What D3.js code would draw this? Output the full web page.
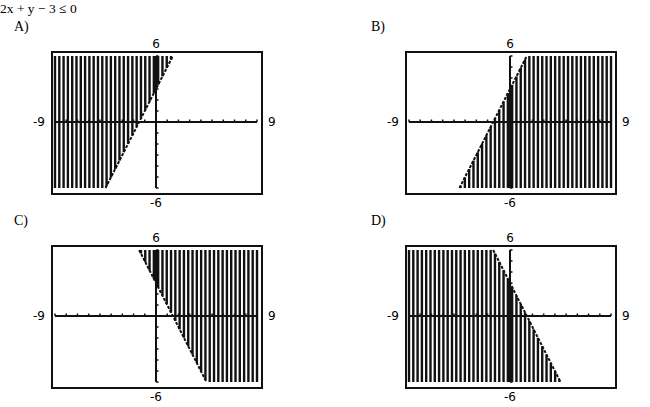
<!DOCTYPE html>
<html><head><meta charset="utf-8">
<script src="https://cdn.jsdelivr.net/npm/d3@7"></script>
<style>body{margin:0;background:#fff}svg{display:block}</style>
</head><body>
<script>
const question = "2x + y \u2212 3 \u2264 0";
const choices = ["A)", "B)", "C)", "D)"];
const slopes = [2, 2, -2, -2];
const intercepts = [3, 3, 3, 3];
const shadeSide = ["above", "below", "above", "below"];
const xDomain = [-9, 9];
const yDomain = [-6, 6];
const xLabels = ["-9", "9"];
const yLabels = ["-6", "6"];

const W = 650, H = 407;
const svg = d3.select("body").append("svg").attr("width", W).attr("height", H);

svg.append("text").attr("x", 0).attr("y", 13)
  .attr("font-family", "Liberation Serif, serif").attr("font-size", 13.5).text(question);

const frames = [[52, 52], [406, 52], [52, 246], [406, 246]];
const labelPos = [[14, 31], [371, 31], [14, 225], [371, 225]];
const fw = 210, fh = 142;

choices.forEach((c, i) => {
  svg.append("text").attr("x", labelPos[i][0]).attr("y", labelPos[i][1])
    .attr("font-family", "Liberation Serif, serif").attr("font-size", 14).text(c);
  const [ox, oy] = frames[i];
  const g = svg.append("g");
  const x = d3.scaleLinear().domain(xDomain).range([ox + 3, ox + 205]);
  const y = d3.scaleLinear().domain(yDomain).range([oy + 136, oy + 4]);
  const m = slopes[i], b = intercepts[i];
  g.append("rect").attr("x", ox).attr("y", oy).attr("width", fw).attr("height", fh)
    .attr("fill", "none").attr("stroke", "#111").attr("stroke-width", 2);
  const cols = d3.range(0, 48).map(k => xDomain[0] + k * (xDomain[1] - xDomain[0]) / 47);
  cols.forEach(xv => {
    const yb = m * xv + b;
    let y0, y1;
    if (shadeSide[i] === "above") { y0 = Math.max(yb, yDomain[0]); y1 = yDomain[1]; }
    else { y0 = yDomain[0]; y1 = Math.min(yb, yDomain[1]); }
    if (y1 > y0) {
      g.append("line").attr("x1", x(xv)).attr("x2", x(xv)).attr("y1", y(y0)).attr("y2", y(y1))
        .attr("stroke", "#111").attr("stroke-width", 2.4);
    }
  });
  g.append("line").attr("x1", x(xDomain[0])).attr("x2", x(xDomain[1])).attr("y1", y(0)).attr("y2", y(0))
    .attr("stroke", "#111").attr("stroke-width", 2);
  g.append("line").attr("x1", x(0)).attr("x2", x(0)).attr("y1", y(yDomain[0])).attr("y2", y(yDomain[1]))
    .attr("stroke", "#111").attr("stroke-width", 2);
  d3.range(xDomain[0], xDomain[1] + 1).forEach(t => {
    g.append("line").attr("x1", x(t)).attr("x2", x(t)).attr("y1", y(0)).attr("y2", y(0) - 2.5)
      .attr("stroke", "#111").attr("stroke-width", 1.5);
  });
  d3.range(yDomain[0], yDomain[1] + 1).forEach(t => {
    g.append("line").attr("x1", x(0)).attr("x2", x(0) + 2.5).attr("y1", y(t)).attr("y2", y(t))
      .attr("stroke", "#111").attr("stroke-width", 1.5);
  });
  const xa = Math.max(xDomain[0], Math.min((yDomain[0] - b) / m, (yDomain[1] - b) / m));
  const xb = Math.min(xDomain[1], Math.max((yDomain[0] - b) / m, (yDomain[1] - b) / m));
  g.append("line").attr("x1", x(xa)).attr("y1", y(m * xa + b)).attr("x2", x(xb)).attr("y2", y(m * xb + b))
    .attr("stroke", "#111").attr("stroke-width", 2).attr("stroke-dasharray", "3,1.5");
  const lf = "DejaVu Sans, sans-serif", ls = 12;
  g.append("text").attr("x", x(0)).attr("y", oy - 4).attr("text-anchor", "middle")
    .attr("font-family", lf).attr("font-size", ls).text(yLabels[1]);
  g.append("text").attr("x", x(0)).attr("y", oy + fh + 13).attr("text-anchor", "middle")
    .attr("font-family", lf).attr("font-size", ls).text(yLabels[0]);
  g.append("text").attr("x", ox - 7).attr("y", y(0) + 4).attr("text-anchor", "end")
    .attr("font-family", lf).attr("font-size", ls).text(xLabels[0]);
  g.append("text").attr("x", ox + fw + 6).attr("y", y(0) + 4).attr("text-anchor", "start")
    .attr("font-family", lf).attr("font-size", ls).text(xLabels[1]);
});
</script>
</body></html>
